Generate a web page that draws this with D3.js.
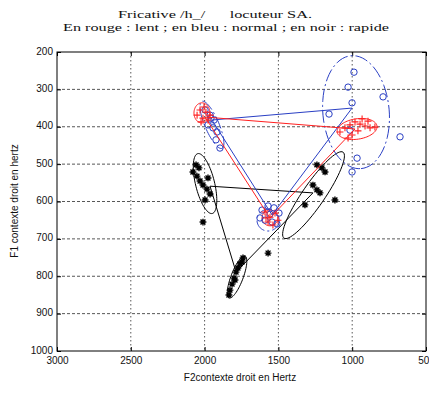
<!DOCTYPE html>
<html>
<head>
<meta charset="utf-8">
<script src="https://cdn.jsdelivr.net/npm/d3@7"></script>
<style>
  html, body { margin: 0; padding: 0; background: #fff; }
  svg { display: block; }
  text { fill: #111; }
  .title { white-space: pre; }
</style>
</head>
<body>
<svg id="chart" width="429" height="397"></svg>
<script>
// Formant measurements (F2, F1 in Hz) for the three speaking rates.
const xTicks = [3000, 2500, 2000, 1500, 1000, 500];
const yTicks = [200, 300, 400, 500, 600, 700, 800, 900, 1000];

// Red "+" : lent
const lentF2 = [2051, 2031, 2004, 1991, 2011, 1977, 1963, 2024,
                1083, 1049, 1015, 981, 947, 913, 879, 846, 1001, 961, 1028, 933, 893,
                1591, 1557, 1523, 1570, 1537, 1503, 1584];
const lentF1 = [369, 355, 347, 361, 377, 382, 369, 387,
                414, 403, 395, 387, 393, 398, 403, 401, 422, 411, 430, 379, 385,
                628, 642, 631, 655, 663, 650, 644];

// Blue "o" : normal
const normalF2 = [1997, 1963, 1936, 1977, 1943, 1916, 1957, 1896, 1923,
                  988, 1028, 1001, 791, 676, 1157, 967, 1001, 1015,
                  1611, 1570, 1530, 1496, 1591, 1543, 1625, 1510, 1557];
const normalF1 = [355, 369, 382, 395, 403, 414, 377, 457, 435,
                  254, 294, 336, 320, 427, 366, 484, 521, 409,
                  623, 612, 617, 631, 650, 655, 644, 660, 634];

// Black "*" : rapide
const rapideF2 = [2079, 2052, 2031, 2011, 1984, 1963, 2038, 1997, 2011, 2058, 1977,
                  1239, 1184, 1266, 1239, 1320, 1117, 1218, 1570, 1205,
                  1740, 1760, 1774, 1787, 1801, 1814, 1828, 1835, 1747, 1794];
const rapideF1 = [521, 532, 545, 556, 567, 580, 510, 596, 655, 502, 537,
                  502, 521, 556, 569, 609, 596, 577, 738, 510,
                  751, 767, 778, 789, 805, 821, 837, 850, 762, 810];

// Vowel centres joined as triangles (F2, F1)
const lentMeanF2 = [1997, 981, 1557];
const lentMeanF1 = [374, 406, 644];
const normalMeanF2 = [1950, 1001, 1543];
const normalMeanF1 = [382, 350, 636];
const rapideMeanF2 = [1963, 1266, 1787];
const rapideMeanF1 = [559, 577, 789];

// Dispersion ellipses: centre [F2, F1], semi-axis vectors a and b in Hz
const lentEllipses = [
  { c: [2018, 363], a: [0, 27], b: [-54, 0] },
  { c: [967, 406], a: [-135, -8], b: [-10, 27] },
  { c: [1557, 644], a: [-54, 0], b: [0, 21] }
];
const normalEllipses = [
  { c: [1950, 395], a: [-68, 63], b: [-44, -7] },
  { c: [974, 361], a: [-34, 151], b: [-224, -8] },
  { c: [1570, 650], a: [-75, 0], b: [0, 29] }
];
const rapideEllipses = [
  { c: [1997, 552], a: [-50, 80], b: [-62, -7] },
  { c: [1262, 583], a: [-200, -115], b: [-62, 17] },
  { c: [1780, 802], a: [-54, -56], b: [-38, 6] }
];

const RED = "#ff1f1f", BLUE = "#2a3fc4", BLACK = "#000";

const svg = d3.select("#chart");
const plotL = 57, plotR = 426, plotT = 52, plotB = 351;
const x = d3.scaleLinear().domain([3000, 500]).range([plotL, plotR]);
const y = d3.scaleLinear().domain([200, 1000]).range([plotT, plotB]);

// Grid
const grid = svg.append("g").attr("stroke", "#444").attr("stroke-width", 0.9);
grid.selectAll("line.h").data(yTicks.slice(1, -1)).join("line")
  .attr("x1", plotL).attr("x2", plotR)
  .attr("y1", d => y(d)).attr("y2", d => y(d))
  .attr("stroke-dasharray", "3,2");
grid.selectAll("line.v").data(xTicks.slice(1, -1)).join("line")
  .attr("y1", plotT).attr("y2", plotB)
  .attr("x1", d => x(d)).attr("x2", d => x(d))
  .attr("stroke-dasharray", "1.5,2.5");

// Axes with inward ticks
const fmt = d3.format("d");
const axB = svg.append("g").attr("transform", `translate(0,${plotB})`)
  .call(d3.axisBottom(x).tickValues(xTicks).tickFormat(fmt).tickSizeInner(-4).tickSizeOuter(0).tickPadding(6));
const axT = svg.append("g").attr("transform", `translate(0,${plotT})`)
  .call(d3.axisTop(x).tickValues(xTicks).tickFormat("").tickSizeInner(-4).tickSizeOuter(0));
const axL = svg.append("g").attr("transform", `translate(${plotL},0)`)
  .call(d3.axisLeft(y).tickValues(yTicks).tickFormat(fmt).tickSizeInner(-4).tickSizeOuter(0).tickPadding(4));
const axR = svg.append("g").attr("transform", `translate(${plotR},0)`)
  .call(d3.axisRight(y).tickValues(yTicks).tickFormat("").tickSizeInner(-4).tickSizeOuter(0));
[axB, axT, axL, axR].forEach(g => {
  g.select(".domain").remove();
  g.selectAll("line").attr("stroke", "#000");
  g.selectAll("text").attr("font-family", "Liberation Sans, Arial, sans-serif")
    .attr("font-size", 10).attr("fill", "#111");
});
axL.selectAll("text").attr("dy", "0.2em");

// Frame
svg.append("rect").attr("x", plotL).attr("y", plotT)
  .attr("width", plotR - plotL).attr("height", plotB - plotT)
  .attr("fill", "none").attr("stroke", "#000").attr("stroke-width", 1);

// Ellipses
const ellipseLine = d3.line().curve(d3.curveLinearClosed);
function ellipsePoints(e) {
  return d3.range(0, 72).map(i => {
    const t = i / 72 * 2 * Math.PI;
    return [x(e.c[0] + e.a[0] * Math.cos(t) + e.b[0] * Math.sin(t)),
            y(e.c[1] + e.a[1] * Math.cos(t) + e.b[1] * Math.sin(t))];
  });
}
function drawEllipses(list, color, dash) {
  svg.append("g").selectAll("path").data(list).join("path")
    .attr("d", e => ellipseLine(ellipsePoints(e)))
    .attr("fill", "none").attr("stroke", color).attr("stroke-width", 1)
    .attr("stroke-dasharray", dash);
}
drawEllipses(rapideEllipses, BLACK, null);
drawEllipses(normalEllipses, BLUE, "13,3,2,3");
drawEllipses(lentEllipses, RED, null);

// Marker shapes
function plusPath(s) { return `M${-s},0H${s}M0,${-s}V${s}`; }
function starPath(s) {
  const d = s * 0.72;
  return `M${-s},0H${s}M0,${-s}V${s}M${-d},${-d}L${d},${d}M${-d},${d}L${d},${-d}`;
}

// Points
const gPts = svg.append("g");
gPts.selectAll("path.r").data(d3.range(rapideF2.length)).join("path")
  .attr("transform", i => `translate(${x(rapideF2[i])},${y(rapideF1[i])})`)
  .attr("d", starPath(3.4)).attr("stroke", BLACK).attr("stroke-width", 1.4).attr("fill", "none");
gPts.selectAll("circle").data(d3.range(normalF2.length)).join("circle")
  .attr("cx", i => x(normalF2[i])).attr("cy", i => y(normalF1[i])).attr("r", 3.2)
  .attr("stroke", BLUE).attr("stroke-width", 1).attr("fill", "none");
gPts.selectAll("path.l").data(d3.range(lentF2.length)).join("path")
  .attr("transform", i => `translate(${x(lentF2[i])},${y(lentF1[i])})`)
  .attr("d", plusPath(3.5)).attr("stroke", RED).attr("stroke-width", 1.1).attr("fill", "none");

// Triangles joining the vowel centres
const triLine = d3.line().curve(d3.curveLinearClosed);
function drawTriangle(f2, f1, color) {
  svg.append("path")
    .attr("d", triLine(f2.map((v, i) => [x(v), y(f1[i])])))
    .attr("fill", "none").attr("stroke", color).attr("stroke-width", 1);
}
drawTriangle(rapideMeanF2, rapideMeanF1, BLACK);
drawTriangle(normalMeanF2, normalMeanF1, BLUE);
drawTriangle(lentMeanF2, lentMeanF1, RED);

// Titles and axis labels
svg.append("text").attr("class", "title").attr("x", 215).attr("y", 18).attr("text-anchor", "middle")
  .attr("font-family", "Liberation Serif, Times New Roman, serif").attr("font-size", 11)
  .attr("textLength", 194).attr("lengthAdjust", "spacingAndGlyphs")
  .text("Fricative /h_/      locuteur SA.");
svg.append("text").attr("class", "title").attr("x", 226).attr("y", 31).attr("text-anchor", "middle")
  .attr("font-family", "Liberation Serif, Times New Roman, serif").attr("font-size", 11)
  .attr("textLength", 326).attr("lengthAdjust", "spacingAndGlyphs")
  .text("En rouge : lent ; en bleu : normal ; en noir : rapide");
svg.append("text").attr("x", 240).attr("y", 381).attr("text-anchor", "middle")
  .attr("font-family", "Liberation Sans, Arial, sans-serif").attr("font-size", 10)
  .text("F2contexte droit  en Hertz");
svg.append("text").attr("transform", "translate(18,201) rotate(-90)").attr("text-anchor", "middle")
  .attr("font-family", "Liberation Sans, Arial, sans-serif").attr("font-size", 10)
  .text("F1 contexte droit en hertz");
</script>
</body>
</html>
